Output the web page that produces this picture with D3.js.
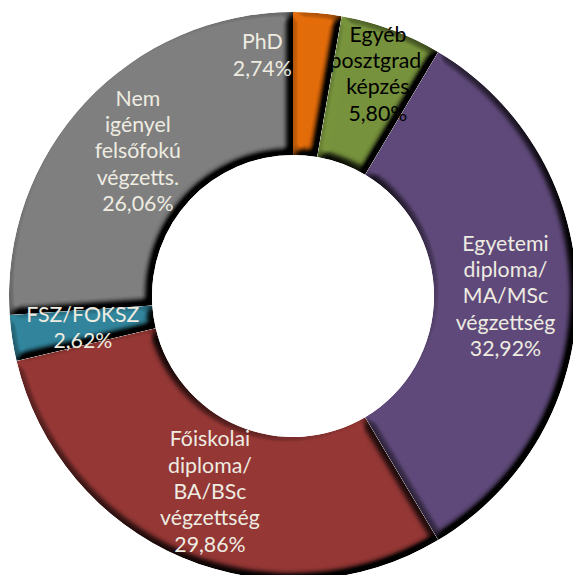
<!DOCTYPE html>
<html>
<head>
<meta charset="utf-8">
<script src="https://cdn.jsdelivr.net/npm/d3@7"></script>
<style>
  html, body { margin: 0; padding: 0; background: #ffffff; }
  svg { display: block; }
</style>
</head>
<body>
<svg id="chart" width="573" height="575"></svg>
<script>
// Share of respondents by level of education required for the job (%)
const categories = ["PhD", "Egyéb posztgrad. képzés", "Egyetemi diploma/ MA/MSc végzettség",
  "Főiskolai diploma/ BA/BSc végzettség", "FSZ/FOKSZ", "Nem igényel felsőfokú végzetts."];
const labelLines = [
  ["PhD"],
  ["Egyéb", "posztgrad.", "képzés"],
  ["Egyetemi", "diploma/", "MA/MSc", "végzettség"],
  ["Főiskolai", "diploma/", "BA/BSc", "végzettség"],
  ["FSZ/FOKSZ"],
  ["Nem", "igényel", "felsőfokú", "végzetts."]
];
const shares = [2.74, 5.80, 32.92, 29.86, 2.62, 26.06];

// Styling
const sliceColors = ["#E46C0A", "#77933C", "#5F497A", "#953735", "#31859C", "#7F7F7F"];
const labelColors = ["#EEECE1", "#000000", "#EEECE1", "#EEECE1", "#EEECE1", "#EEECE1"];

// Layout
const width = 573, height = 575;
const cx = 293, cy = 296;
const outerR = 284, innerR = 141;
const fontSize = 21.3, lineHeight = 26.3;
// Small slices get their labels pushed outward / sideways (angle shift in degrees, radius)
const labelNudge = { "PhD": { dAngle: -12.2, r: 243 }, "Egyéb posztgrad. képzés": { dAngle: 0.6, r: 238 } };

const svg = d3.select("#chart");

// Bevel: a bump map from the blurred slice shape lit from the upper left
const defs = svg.append("defs");
const f = defs.append("filter").attr("id", "bevel")
  .attr("x", "-5%").attr("y", "-5%").attr("width", "110%").attr("height", "110%")
  .attr("color-interpolation-filters", "sRGB");
f.append("feGaussianBlur").attr("in", "SourceAlpha").attr("stdDeviation", 4).attr("result", "b");
f.append("feDiffuseLighting").attr("in", "b").attr("surfaceScale", 14)
  .attr("diffuseConstant", 1.2).attr("lighting-color", "#ffffff").attr("result", "l")
  .append("feDistantLight").attr("azimuth", 225).attr("elevation", 56);
f.append("feComposite").attr("in", "SourceGraphic").attr("in2", "l")
  .attr("operator", "arithmetic").attr("k1", 1).attr("k2", 0).attr("k3", 0).attr("k4", 0)
  .attr("result", "shaded");
f.append("feComposite").attr("in", "shaded").attr("in2", "SourceAlpha").attr("operator", "in");

const data = categories.map((c, i) => ({ name: c, value: shares[i], lines: labelLines[i], i }));

const pie = d3.pie().sort(null).value(d => d.value).startAngle(0).endAngle(2 * Math.PI);
const arc = d3.arc().innerRadius(innerR).outerRadius(outerR);
const arcs = pie(data);

const g = svg.append("g").attr("transform", `translate(${cx},${cy})`);

g.selectAll("path.slice")
  .data(arcs)
  .join("path")
  .attr("class", "slice")
  .attr("d", arc)
  .attr("fill", d => sliceColors[d.data.i])
  .attr("filter", "url(#bevel)");

const fmt = v => d3.format(".2f")(v).replace(".", ",") + "%";

g.selectAll("text.lbl")
  .data(arcs)
  .join("text")
  .attr("class", "lbl")
  .attr("text-anchor", "middle")
  .attr("font-family", "Lato, 'Open Sans', sans-serif")
  .attr("font-size", fontSize)
  .attr("fill", d => labelColors[d.data.i])
  .each(function (d) {
    const nudge = labelNudge[d.data.name] || { dAngle: 0, r: (innerR + outerR) / 2 };
    const a = (d.startAngle + d.endAngle) / 2 + nudge.dAngle * Math.PI / 180;
    const x = nudge.r * Math.sin(a);
    const y = -nudge.r * Math.cos(a);
    const lines = d.data.lines.concat([fmt(d.data.value)]);
    const top = y - (lines.length - 1) * lineHeight / 2;
    const t = d3.select(this);
    lines.forEach((s, k) => {
      t.append("tspan")
        .attr("x", x)
        .attr("y", top + k * lineHeight)
        .attr("dy", "0.35em")
        .text(s);
    });
  });
</script>
</body>
</html>
